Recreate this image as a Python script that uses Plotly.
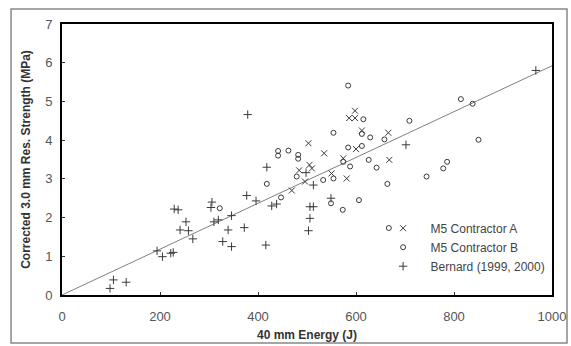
import plotly.graph_objects as go

# Contractor A (x markers)
a_x = [598, 586, 598, 612, 666, 503, 600, 535, 505, 510, 484, 574, 668, 496, 469, 550, 581]
a_y = [4.76, 4.57, 4.57, 4.25, 4.19, 3.92, 3.77, 3.66, 3.36, 3.27, 3.22, 3.53, 3.49, 2.93, 2.70, 3.14, 3.01]

# Contractor B (circles)
b_x = [584, 615, 709, 554, 612, 629, 658, 584, 612, 441, 441, 462, 482, 482, 574, 626, 642, 588,
       744, 479, 533, 554, 664, 606, 549, 573, 418, 447, 322, 814, 838, 850, 786, 778, 667]
b_y = [5.41, 4.54, 4.50, 4.19, 4.16, 4.07, 4.02, 3.81, 3.85, 3.72, 3.60, 3.73, 3.62, 3.52, 3.44, 3.49, 3.29, 3.32,
       3.06, 3.06, 2.97, 3.01, 2.87, 2.45, 2.37, 2.20, 2.87, 2.52, 2.24, 5.06, 4.94, 4.01, 3.44, 3.27, 1.73]

# Bernard (1999, 2000) (+ markers)
c_x = [98, 105, 131, 194, 205, 222, 227, 229, 237, 253, 241, 258, 267, 306, 304, 310, 319, 346, 328, 346,
       339, 372, 377, 396, 416, 428, 438, 379, 418, 498, 513, 506, 513, 506, 503, 549, 702, 967]
c_y = [0.17, 0.39, 0.33, 1.14, 0.99, 1.08, 1.10, 2.22, 2.20, 1.89, 1.68, 1.66, 1.45, 2.40, 2.26, 1.89, 1.94, 2.05, 1.38, 1.25,
       1.68, 1.74, 2.57, 2.43, 1.29, 2.30, 2.35, 4.66, 3.30, 3.16, 2.84, 2.28, 2.28, 1.98, 1.66, 2.50, 3.88, 5.80]

# Trend line through origin
trend_x = [0, 1000]
trend_slope = 0.00592
trend_y = [v * trend_slope for v in trend_x]

x_ticks = [0, 200, 400, 600, 800, 1000]
y_ticks = [0, 1, 2, 3, 4, 5, 6, 7]

mcol = "#3a3a3a"
fig = go.Figure()
fig.add_trace(go.Scatter(x=trend_x, y=trend_y, mode="lines", line=dict(color="#808080", width=1),
                         showlegend=False, hoverinfo="skip"))
fig.add_trace(go.Scatter(x=a_x, y=a_y, mode="markers", name="M5 Contractor A",
                         marker=dict(symbol="x-thin-open", size=6, line=dict(color=mcol, width=1), color=mcol)))
fig.add_trace(go.Scatter(x=b_x, y=b_y, mode="markers", name="M5 Contractor B",
                         marker=dict(symbol="circle-open", size=5, line=dict(color=mcol, width=1), color=mcol)))
fig.add_trace(go.Scatter(x=c_x, y=c_y, mode="markers", name="Bernard (1999, 2000)",
                         marker=dict(symbol="cross-thin-open", size=6, line=dict(color=mcol, width=1), color=mcol)))

axis_common = dict(showgrid=False, zeroline=False, showline=True, linecolor="black", linewidth=2,
                   mirror=True, ticks="inside", ticklen=3, tickcolor="#333", tickwidth=1,
                   tickfont=dict(family="Liberation Sans", size=13, color="#555"))
fig.update_xaxes(range=[0, 1000], tickvals=x_ticks, ticktext=[str(t) for t in x_ticks],
                 ticklabelstandoff=8,
                 title=dict(text="<b>40 mm Energy (J)</b>", font=dict(family="Liberation Sans", size=12, color="#333"),
                            standoff=8), **axis_common)
fig.update_yaxes(range=[0, 7], tickvals=y_ticks, ticktext=[str(t) for t in y_ticks],
                 ticklabelstandoff=5,
                 title=dict(text="<b>Corrected 3.0 mm Res. Strength (MPa)</b>",
                            font=dict(family="Liberation Sans", size=12, color="#333"), standoff=12), **axis_common)

fig.add_shape(type="rect", xref="paper", yref="paper", x0=-0.104, x1=1.0306, y0=-0.177, y1=1.055,
              line=dict(color="#888", width=1.5), layer="below")

fig.update_layout(width=571, height=346, margin=dict(l=62, r=19, t=24, b=51, autoexpand=False),
                  paper_bgcolor="white", plot_bgcolor="white",
                  legend=dict(x=0.64, y=0.30, xanchor="left", yanchor="top", bgcolor="rgba(0,0,0,0)",
                              font=dict(family="Liberation Sans", size=12, color="#444"),
                              itemwidth=45, tracegroupgap=0))
fig.write_html("out.html", config={"displayModeBar": False},
               post_script="document.body.style.margin='0';document.body.style.overflow='hidden';")
